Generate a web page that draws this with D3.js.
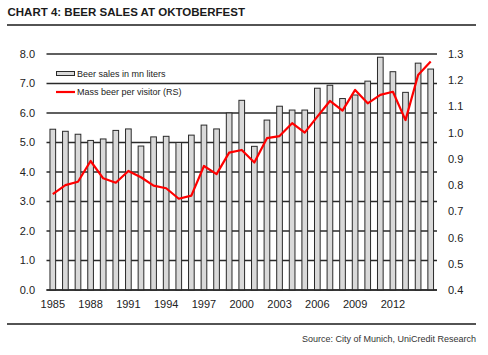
<!DOCTYPE html>
<html><head><meta charset="utf-8">
<script src="https://cdn.jsdelivr.net/npm/d3@7"></script>
<style>
html,body{margin:0;padding:0;background:#fff;}
svg{display:block;font-family:"Liberation Sans",Arial,sans-serif;}
</style></head>
<body>
<svg id="chart" width="488" height="355"></svg>
<script>
const years = d3.range(1985, 2016);
const beerSales = [5.45,5.38,5.28,5.07,5.12,5.41,5.46,4.88,5.19,5.21,5.00,5.25,5.59,5.46,6.00,6.43,
  4.87,5.76,6.23,6.10,6.10,6.84,6.94,6.49,6.61,7.08,7.89,7.40,6.70,7.69,7.49];
const massPerVisitor = [0.766,0.80,0.813,0.892,0.826,0.809,0.854,0.83,0.798,0.788,0.748,0.76,0.873,0.842,0.924,0.934,
  0.886,0.979,0.987,1.036,1.0,1.061,1.121,1.084,1.163,1.112,1.144,1.156,1.048,1.22,1.271];
const leftTicks = [0,1,2,3,4,5,6,7,8];
const rightTicks = [0.4,0.5,0.6,0.7,0.8,0.9,1.0,1.1,1.2,1.3];
const xLabelYears = [1985,1988,1991,1994,1997,2000,2003,2006,2009,2012];
const title = "CHART 4: BEER SALES AT OKTOBERFEST";
const source = "Source: City of Munich, UniCredit Research";
const legendLabels = ["Beer sales in mn liters", "Mass beer per visitor (RS)"];

const svg = d3.select("#chart");
const L = 46.5, R = 437, T = 54, B = 290;
const x = d3.scaleBand().domain(years).range([L, R]).paddingInner(0.55).paddingOuter(0.275);
const yL = d3.scaleLinear().domain([0, 8]).range([B, T]);
const yR = d3.scaleLinear().domain([0.4, 1.3]).range([B, T]);

// title and rules
svg.append("text").attr("x", 7.5).attr("y", 15.5).attr("font-size", 11.5).attr("font-weight", "bold")
  .attr("fill", "#1a1a1a").text(title);
svg.append("line").attr("x1", 7).attr("x2", 476).attr("y1", 25).attr("y2", 25).attr("stroke", "#1a1a1a").attr("stroke-width", 1.5);
svg.append("line").attr("x1", 7).attr("x2", 476).attr("y1", 324).attr("y2", 324).attr("stroke", "#1a1a1a").attr("stroke-width", 1.5);
svg.append("text").attr("x", 476).attr("y", 342).attr("text-anchor", "end").attr("font-size", 9)
  .attr("fill", "#333").text(source);

// gridlines
svg.append("g").selectAll("line").data(leftTicks).join("line")
  .attr("x1", L).attr("x2", R).attr("y1", d => yL(d)).attr("y2", d => yL(d))
  .attr("stroke", "#2a2a2a").attr("stroke-width", 1.3);

// left axis labels
svg.append("g").selectAll("text").data(leftTicks).join("text")
  .attr("x", 35).attr("y", d => yL(d)).attr("dy", "0.36em").attr("text-anchor", "end")
  .attr("font-size", 11).attr("fill", "#222").text(d => d.toFixed(1));
// right axis labels
svg.append("g").selectAll("text").data(rightTicks).join("text")
  .attr("x", 448).attr("y", d => yR(d)).attr("dy", "0.36em").attr("text-anchor", "start")
  .attr("font-size", 11).attr("fill", "#222").text(d => d.toFixed(1));
// x labels
svg.append("g").selectAll("text").data(xLabelYears).join("text")
  .attr("x", d => x(d) + x.bandwidth() / 2).attr("y", 304).attr("dy", "0.36em").attr("text-anchor", "middle")
  .attr("font-size", 11).attr("fill", "#222").text(d => d);

// bars
svg.append("g").selectAll("rect").data(years).join("rect")
  .attr("x", d => x(d)).attr("width", x.bandwidth())
  .attr("y", (d, i) => yL(beerSales[i])).attr("height", (d, i) => B - yL(beerSales[i]))
  .attr("fill", "#d9d9d9").attr("stroke", "#2a2a2a").attr("stroke-width", 1);

// baseline
svg.append("line").attr("x1", L).attr("x2", R).attr("y1", B).attr("y2", B).attr("stroke", "#2a2a2a").attr("stroke-width", 1.3);

// line
const line = d3.line().x((d, i) => x(years[i]) + x.bandwidth() / 2).y(d => yR(d));
svg.append("path").datum(massPerVisitor).attr("d", line).attr("fill", "none")
  .attr("stroke", "#ff0000").attr("stroke-width", 2.2).attr("stroke-linejoin", "round");

// legend
const lg = svg.append("g");
lg.append("rect").attr("x", 56.5).attr("y", 71.5).attr("width", 18).attr("height", 4)
  .attr("fill", "#d9d9d9").attr("stroke", "#2a2a2a").attr("stroke-width", 1);
lg.append("text").attr("x", 77).attr("y", 74).attr("dy", "0.36em").attr("font-size", 9).attr("fill", "#222").text(legendLabels[0]);
lg.append("line").attr("x1", 56).attr("x2", 75).attr("y1", 92).attr("y2", 92).attr("stroke", "#ff0000").attr("stroke-width", 2.2);
lg.append("text").attr("x", 77).attr("y", 92).attr("dy", "0.36em").attr("font-size", 9).attr("fill", "#222").text(legendLabels[1]);
</script>
</body></html>
